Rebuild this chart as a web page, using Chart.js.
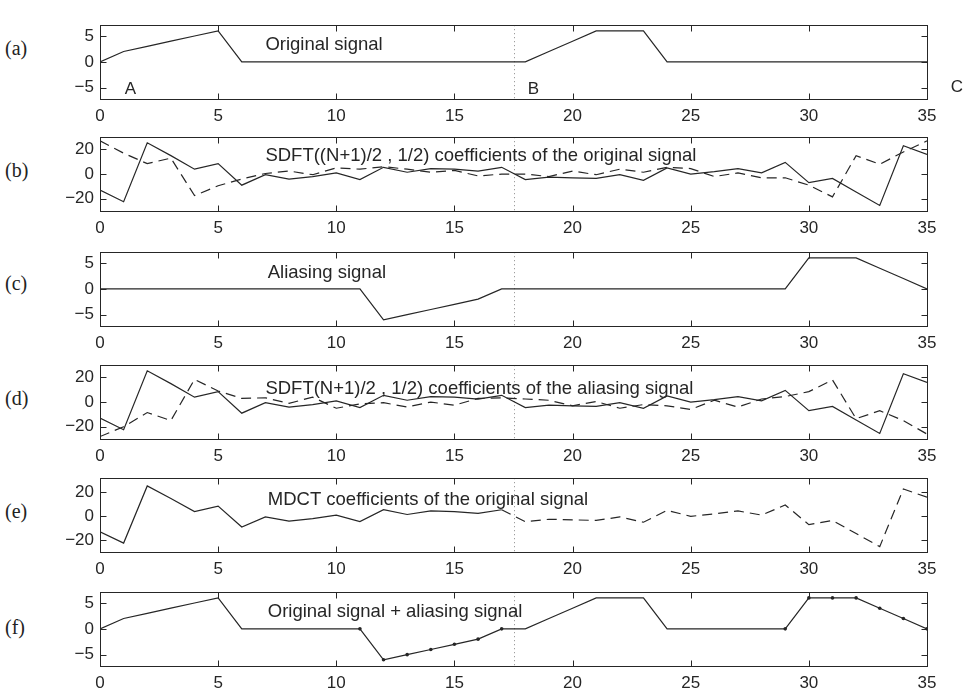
<!DOCTYPE html>
<html><head><meta charset="utf-8">
<script src="https://cdn.jsdelivr.net/npm/chart.js@4.4.1/dist/chart.umd.min.js"></script>
<style>
html,body{margin:0;padding:0;background:#fff;}
#wrap{position:relative;width:965px;height:692px;overflow:hidden;background:#fff;}
canvas{position:absolute;left:0;}
.lab{position:absolute;left:5px;font-family:"Liberation Serif","DejaVu Serif",serif;font-size:20px;color:#222;line-height:22px;}
</style></head><body>
<div id="wrap">
<div class="lab" style="top:37px">(a)</div>
<div class="lab" style="top:159px">(b)</div>
<div class="lab" style="top:272px">(c)</div>
<div class="lab" style="top:387px">(d)</div>
<div class="lab" style="top:500px">(e)</div>
<div class="lab" style="top:616px">(f)</div>
<canvas id="c0" width="965" height="116"></canvas>
<canvas id="c1" width="965" height="116"></canvas>
<canvas id="c2" width="965" height="116"></canvas>
<canvas id="c3" width="965" height="116"></canvas>
<canvas id="c4" width="965" height="116"></canvas>
<canvas id="c5" width="965" height="116"></canvas>
</div>
<script>
// ---------------- data ----------------
const sampleIndex = [0,1,2,3,4,5,6,7,8,9,10,11,12,13,14,15,16,17,18,19,20,21,22,23,24,25,26,27,28,29,30,31,32,33,34,35];
const xTickValues = [0,5,10,15,20,25,30,35];
const signalTickValues = [-5,0,5];
const coefTickValues = [-20,0,20];
const boundary = 17.5;
const windowSplit = 17;

const originalSignal = [0,2,3,4,5,6,0,0,0,0,0,0,0,0,0,0,0,0,0,2,4,6,6,6,0,0,0,0,0,0,0,0,0,0,0,0];
const aliasingSignal = [0,0,0,0,0,0,0,0,0,0,0,0,-6,-5,-4,-3,-2,0,0,0,0,0,0,0,0,0,0,0,0,0,6,6,6,4,2,0];
const summedSignal   = [0,2,3,4,5,6,0,0,0,0,0,0,-6,-5,-4,-3,-2,0,0,2,4,6,6,6,0,0,0,0,0,0,6,6,6,4,2,0];
const markedSamples  = [11,12,13,14,15,16,17,29,30,31,32,33,34,35];

const sdftReal      = [-13,-22.5,25.5,15,4,8.5,-9,-0.5,-4,-2,1,-4.5,5.5,1.5,4.5,4,2.5,5.5,-4.5,-2.5,-3,-3.5,-0.5,-5,5,0,2,4.5,1,9.5,-7,-3.5,-14.5,-25.5,23,16];
const sdftImagOrig  = [27,17,8.5,13,-17.5,-9.5,-4,0.5,2.5,-0.5,5,4,6,4,1.5,3,-1.5,0,0,-2,2.5,-0.5,4,1.5,5.5,4.5,-2,1,-3,-3,-9,-18.5,15,8,18,27];
const sdftImagAlias = [-28,-20,-8.5,-15,18.5,9,3,3.5,-1,4,-5,-1.5,-0.5,-4,0,-2.5,3,3.5,2.5,1.5,-3,0.5,-5,-2,-3,-6,1.5,-4,2.5,4.5,8.5,18,-13.5,-7,-15,-26];

// ---------------- styling ----------------
const INK = '#262626';
const FONT = '"Liberation Sans", Arial, sans-serif';
const plotTops = [13,125,240,353,466,580];
const padTop = 4;

function pts(vals, keep){
  return sampleIndex.map((x,i)=>({x:x, y:(keep && !keep(x)) ? null : vals[i]}));
}

const deco = {
  id:'deco',
  beforeDatasetsDraw(chart){
    const ctx = chart.ctx, a = chart.chartArea, xs = chart.scales.x;
    ctx.save();
    ctx.strokeStyle = '#888'; ctx.lineWidth = 1; ctx.setLineDash([1,3]);
    const px = Math.round(xs.getPixelForValue(boundary)) + 0.5;
    ctx.beginPath(); ctx.moveTo(px, a.top); ctx.lineTo(px, a.bottom); ctx.stroke();
    ctx.restore();
  },
  afterDraw(chart){
    const o = chart.options.plugins.deco || {};
    const ctx = chart.ctx, a = chart.chartArea, xs = chart.scales.x, ys = chart.scales.y;
    ctx.save();
    ctx.strokeStyle = INK; ctx.lineWidth = 1; ctx.setLineDash([]);
    const L = Math.round(a.left)+0.5, R = Math.round(a.right)+0.5, T = Math.round(a.top)+0.5, B = Math.round(a.bottom)+0.5;
    ctx.strokeRect(L, T, R-L, B-T);
    ctx.beginPath();
    const tl = 6;
    xTickValues.forEach(v=>{
      const p = Math.round(xs.getPixelForValue(v))+0.5;
      ctx.moveTo(p, T); ctx.lineTo(p, T+tl);
      ctx.moveTo(p, B); ctx.lineTo(p, B-tl);
    });
    (o.yTicks||[]).forEach(v=>{
      const p = Math.round(ys.getPixelForValue(v))+0.5;
      ctx.moveTo(L, p); ctx.lineTo(L+tl, p);
      ctx.moveTo(R, p); ctx.lineTo(R-tl, p);
    });
    ctx.stroke();
    ctx.fillStyle = INK; ctx.textBaseline = 'middle'; ctx.textAlign = 'left';
    (o.texts||[]).forEach(t=>{
      ctx.font = (t.size||18.5) + 'px ' + FONT;
      ctx.fillText(t.text, xs.getPixelForValue(t.x), ys.getPixelForValue(t.y));
    });
    ctx.restore();
  }
};

const fmt = v => (v < 0 ? '\u2212' + Math.abs(v) : String(v));

function makePanel(idx, datasets, yMin, yMax, yTicks, texts){
  const cv = document.getElementById('c'+idx);
  cv.style.top = (plotTops[idx]-padTop) + 'px';
  return new Chart(cv, {
    type:'line',
    data:{datasets:datasets},
    options:{
      responsive:false, animation:false, devicePixelRatio:1,
      layout:{padding:{top:padTop, right:38, left:0, bottom:0}},
      plugins:{legend:{display:false}, tooltip:{enabled:false}, deco:{yTicks:yTicks, texts:texts}},
      elements:{line:{tension:0, borderWidth:1.2, borderColor:INK}, point:{radius:0}},
      scales:{
        x:{type:'linear', min:0, max:35,
           grid:{display:false, drawTicks:false}, border:{display:false},
           afterBuildTicks(s){ s.ticks = xTickValues.map(v=>({value:v})); },
           afterFit(s){ s.height = 26; },
           ticks:{padding:7, color:INK, font:{family:FONT, size:17}, maxRotation:0, autoSkip:false, callback:fmt}},
        y:{type:'linear', min:yMin, max:yMax,
           grid:{display:false, drawTicks:false}, border:{display:false},
           afterBuildTicks(s){ s.ticks = yTicks.map(v=>({value:v})); },
           afterFit(s){ s.width = 100; },
           ticks:{padding:6, color:INK, font:{family:FONT, size:17}, callback:fmt}}
      }
    },
    plugins:[deco]
  });
}

const solid = (vals, keep)=>({data:pts(vals, keep), borderColor:INK, borderWidth:1.2, pointRadius:0, spanGaps:false});
const dashed = (vals, keep)=>({data:pts(vals, keep), borderColor:INK, borderWidth:1.2, borderDash:[10,6], pointRadius:0, spanGaps:false});

makePanel(0, [solid(originalSignal)], -7.2, 7.1, signalTickValues, [
  {x:7.0, y:3.2, text:'Original signal'},
  {x:1.05, y:-5.4, text:'A', size:17},
  {x:18.1, y:-5.4, text:'B', size:17},
  {x:36.0, y:-5.0, text:'C', size:17}
]);
makePanel(1, [solid(sdftReal), dashed(sdftImagOrig)], -30, 30, coefTickValues, [
  {x:7.0, y:14.5, text:'SDFT((N+1)/2 , 1/2) coefficients of the original signal'}
]);
makePanel(2, [solid(aliasingSignal)], -7.2, 7.1, signalTickValues, [
  {x:7.1, y:3.1, text:'Aliasing signal'}
]);
makePanel(3, [solid(sdftReal), dashed(sdftImagAlias)], -30, 30, coefTickValues, [
  {x:7.0, y:11, text:'SDFT(N+1)/2 , 1/2) coefficients of the aliasing signal'}
]);
makePanel(4, [solid(sdftReal, x=>x<=windowSplit), dashed(sdftReal, x=>x>=windowSplit)], -30, 32, coefTickValues, [
  {x:7.1, y:13.4, text:'MDCT coefficients of the original signal'}
]);
makePanel(5, [
  solid(summedSignal),
  {data:markedSamples.map(x=>({x:x, y:summedSignal[sampleIndex.indexOf(x)]})), showLine:false,
   pointRadius:1.8, pointBackgroundColor:INK, pointBorderColor:INK, pointBorderWidth:0}
], -7.2, 7.1, signalTickValues, [
  {x:7.1, y:3.2, text:'Original signal + aliasing signal'}
]);
</script>
</body></html>
